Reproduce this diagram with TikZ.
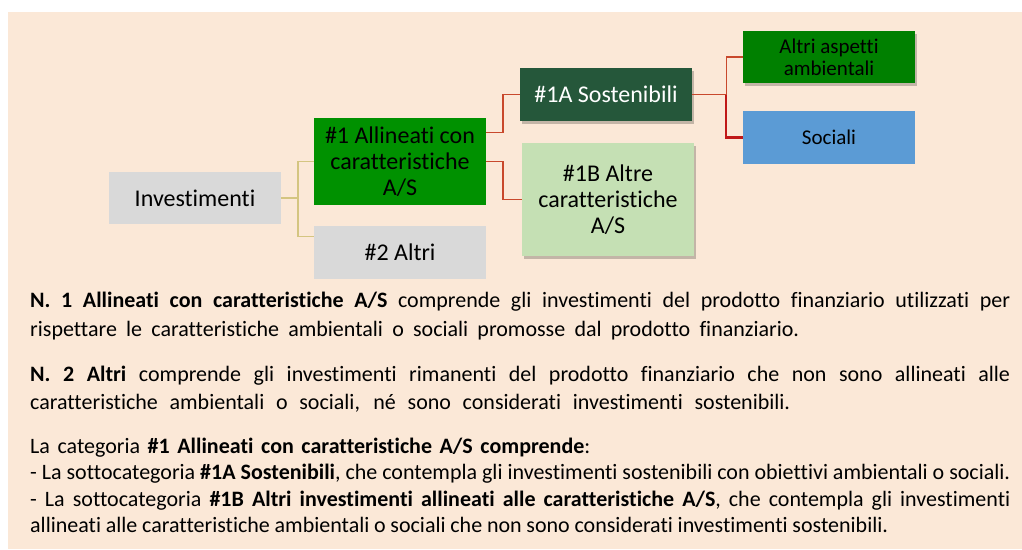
\documentclass[tikz,border=0pt]{standalone}
\usepackage{fontspec}
\setmainfont{Carlito}[Ligatures={NoCommon}]
\usetikzlibrary{shadows,calc}
\definecolor{bgpeach}{HTML}{FBE8D7}
\definecolor{boxgray}{HTML}{D9D9D9}
\definecolor{greenA}{HTML}{009100}
\definecolor{darkgreen}{HTML}{25573A}
\definecolor{lightgreen}{HTML}{C5E0B4}
\definecolor{envgreen}{HTML}{008000}
\definecolor{socblue}{HTML}{5B9BD5}
\definecolor{tanline}{HTML}{D4C581}
\definecolor{redline}{HTML}{C8482C}
\definecolor{deepred}{HTML}{C01818}
\begin{document}
\begin{tikzpicture}[x=1pt,y=-1pt,
  box/.style={draw=none,inner sep=0pt,minimum width=172pt,align=center,
    font=\fontsize{24}{26}\selectfont},
  shadowed/.style={drop shadow={shadow xshift=2pt,shadow yshift=-3pt,fill=black,opacity=0.22}},
  tanconn/.style={draw=tanline,line width=1.8pt},
  redconn/.style={draw=redline,line width=1.8pt},
  deepconn/.style={draw=deepred,line width=2.2pt},
  txt/.style={anchor=base west,inner sep=0pt,font=\fontsize{22}{25}\selectfont}]
\useasboundingbox (0,0) rectangle (1022,549);
\fill[bgpeach] (8,12) rectangle (1022,549);

% boxes
\node[box,fill=boxgray,minimum height=52pt] (inv) at (195,198) {Investimenti};
\node[box,fill=greenA,minimum height=87pt] (a1) at (400,161.5) {\#1 Allineati con\\caratteristiche\\A/S};
\node[box,fill=boxgray,minimum height=53pt] (a2) at (400,252.5) {\#2 Altri};
\node[box,shadowed,fill=darkgreen,text=white,minimum height=53pt] (s1a) at (606,94.5) {\#1A Sostenibili};
\node[box,shadowed,fill=lightgreen,minimum height=113pt] (s1b) at (608,199.5) {\#1B Altre\\caratteristiche\\A/S};
\node[box,shadowed,fill=envgreen,minimum height=52pt,font=\fontsize{21}{22}\selectfont] (amb) at (829,57) {Altri aspetti\\ambientali};
\node[box,fill=socblue,minimum height=53pt,font=\fontsize{21}{22}\selectfont] (soc) at (829,137.5) {Sociali};

% connectors
\draw[tanconn] (inv.east) -- ++(17,0) coordinate (j1);
\draw[tanconn] (j1) |- (a1.west);
\draw[tanconn] (j1) |- ($(a2.west)+(0,-16)$);
\draw[redconn] ($(a1.east)+(0,-29)$) -- ++(17,0) |- (s1a.west);
\draw[redconn] (a1.east) -- ++(17,0) |- (s1b.west);
\draw[redconn] (s1a.east) -- ++(34,0) coordinate (j2);
\draw[redconn,line width=1.4pt] (j2) |- (amb.west);
\draw[deepconn] (j2) |- (soc.west);

% text lines
\node[txt] (l1) at (30,307) {\makebox[980pt][s]{\textbf{N. 1 Allineati con caratteristiche A/S} comprende gli investimenti del prodotto finanziario utilizzati per}};
\node[txt] (l2) at (30,336) {\makebox[769pt][s]{rispettare le caratteristiche ambientali o sociali promosse dal prodotto finanziario.}};
\node[txt] (l3) at (30,381) {\makebox[980pt][s]{\textbf{N. 2 Altri} comprende gli investimenti rimanenti del prodotto finanziario che non sono allineati alle}};
\node[txt] (l4) at (30,409) {\makebox[760pt][s]{caratteristiche ambientali o sociali, né sono considerati investimenti sostenibili.}};
\node[txt] (l5) at (30,453) {\makebox[560pt][s]{La categoria \textbf{\#1 Allineati con caratteristiche A/S comprende}:}};
\node[txt] (l6) at (30,479) {\makebox[980pt][s]{- La sottocategoria \textbf{\#1A Sostenibili}, che contempla gli investimenti sostenibili con obiettivi ambientali o sociali.}};
\node[txt] (l7) at (30,506) {\makebox[980pt][s]{- La sottocategoria \textbf{\#1B Altri investimenti allineati alle caratteristiche A/S}, che contempla gli investimenti}};
\node[txt] (l8) at (30,532) {\makebox[858pt][s]{allineati alle caratteristiche ambientali o sociali che non sono considerati investimenti sostenibili.}};
\end{tikzpicture}
\end{document}
